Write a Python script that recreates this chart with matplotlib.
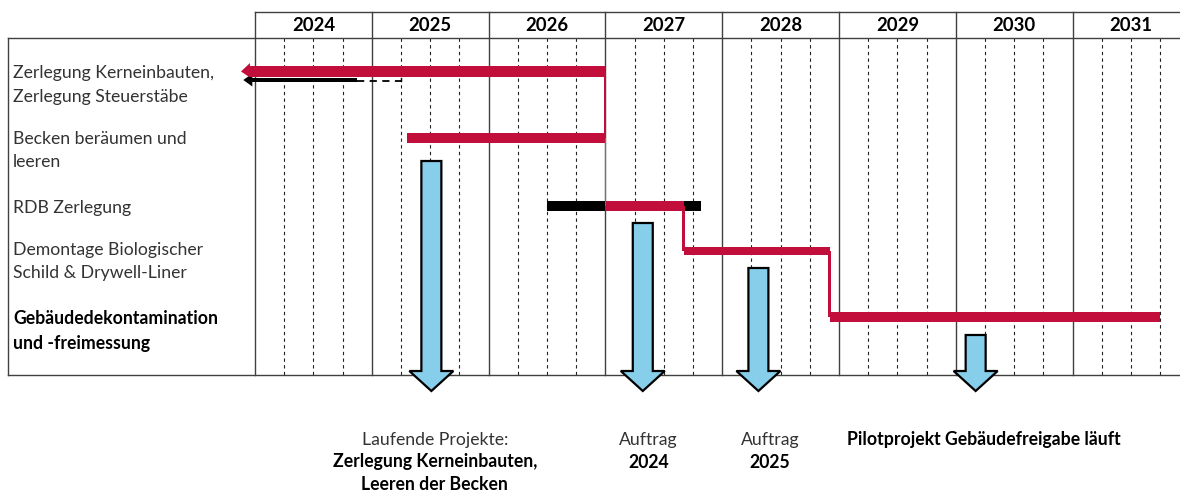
import matplotlib
matplotlib.use("Agg")
import matplotlib.pyplot as plt
from matplotlib.patches import Polygon, Rectangle

# ---------------- data ----------------
years = [2024, 2025, 2026, 2027, 2028, 2029, 2030, 2031]
year_labels = ["2024", "2025", "2026", "2027", "2028", "2029", "2030", "2031"]

tasks = [
    ["Zerlegung Kerneinbauten,", "Zerlegung Steuerstäbe"],
    ["Becken beräumen und", "leeren"],
    ["RDB Zerlegung"],
    ["Demontage Biologischer", "Schild & Drywell-Liner"],
    ["Gebäudedekontamination", "und -freimessung"],
]
task_bold = [False, False, False, False, True]

# current plan (red) start / end in years
red_start = [2023.88, 2025.30, 2027.00, 2027.67, 2028.92]
red_end = [2027.00, 2027.00, 2027.67, 2028.92, 2031.75]

# original plan (black) start / end, dashed extension
black_start = [2023.90, None, 2026.50, None, None]
black_end = [2024.875, None, 2027.82, None, None]
dashed_end = [2025.25, None, None, None, None]

# milestones (blue arrows)
milestone_x = [2025.51, 2027.32, 2028.31, 2030.17]
milestone_lines = [
    [("Laufende Projekte:", False), ("Zerlegung Kerneinbauten,", True), ("Leeren der Becken", True)],
    [("Auftrag", False), ("2024", True)],
    [("Auftrag", False), ("2025", True)],
    [("Pilotprojekt Gebäudefreigabe läuft", True)],
]
milestone_label_x = [2025.54, 2027.37, 2028.41, 2030.24]

# ---------------- layout ----------------
W, H = 1180, 492
PXY = 116.8          # pixels per year
X_START_PX = 255     # pixel position of 2024.0
x0 = 2024 - X_START_PX / PXY
x1 = x0 + W / PXY

def yr(px):  # pixel width -> years
    return px / PXY

row_y = [71.5, 138, 205.5, 251, 317]
row_h = [10.5, 10, 10, 8, 10]
label_y = [[73, 97], [139, 162], [208], [250, 273], [319, 343]]
milestone_top = [161, 223, 268, 335]
HEAD_BASE, HEAD_TIP = 371, 391
SHAFT_HW, HEAD_HW = 10, 22

RED = "#C20E3A"
BLUE = "#87CEEB"
GRID = "#404040"
TXT = "#333333"
FONT = ["Lato", "DejaVu Sans"]
FS = 12.7

plt.rcParams["font.family"] = FONT

fig = plt.figure(figsize=(W / 100, H / 100), dpi=100)
ax = fig.add_axes([0, 0, 1, 1])
ax.set_xlim(x0, x1)
ax.set_ylim(H, 0)
ax.axis("off")

TOP, HDR, BOT = 12, 38, 375
LEFT = x0 + yr(8)

# frame
ax.plot([years[0], x1], [TOP, TOP], color=GRID, lw=1.0, zorder=2)
ax.plot([LEFT, x1], [HDR, HDR], color=GRID, lw=1.0, zorder=2)
ax.plot([LEFT, x1], [BOT, BOT], color=GRID, lw=1.0, zorder=2)
ax.plot([LEFT, LEFT], [HDR, BOT], color=GRID, lw=1.0, zorder=2)
for y in years:
    ax.plot([y, y], [TOP, BOT], color=GRID, lw=1.0, zorder=2)
    for q in (0.25, 0.5, 0.75):
        ax.plot([y + q, y + q], [HDR, BOT], color="#222222", lw=0.8,
                dashes=(3, 3), zorder=1)
for y, lab in zip(years, year_labels):
    ax.text(y + 0.5, 25.5, lab, ha="center", va="center", fontsize=13.3,
            fontweight="bold", color="black")

# task labels
for lines, ys, b in zip(tasks, label_y, task_bold):
    for line, yy in zip(lines, ys):
        ax.text(x0 + yr(13), yy, line, ha="left", va="center", fontsize=FS,
                fontweight="bold" if b else "normal",
                color="black" if b else TXT)

# black (original plan) bars
for i, (bs, be) in enumerate(zip(black_start, black_end)):
    if bs is None:
        continue
    if i == 0:
        yc = 80
        h = 4.5
        head = yr(9)
        ax.add_patch(Rectangle((bs + head, yc - h / 2), be - bs - head, h,
                               color="black", lw=0, zorder=4))
        ax.add_patch(Polygon([[bs, yc], [bs + head, yc - 6.5], [bs + head, yc + 6.5]],
                             closed=True, color="black", lw=0, zorder=4))
    else:
        yc = row_y[i]
        h = row_h[i]
        ax.add_patch(Rectangle((bs, yc - h / 2), be - bs, h,
                               color="black", lw=0, zorder=4))
for i, de in enumerate(dashed_end):
    if de is None:
        continue
    ax.plot([black_end[i], de], [80.5, 80.5], color="black", lw=1.3,
            dashes=(4, 3), zorder=4)
    ax.plot([de, de], [77.5, 81], color="black", lw=1.0, zorder=4)

# red (current plan) bars
for i, (rs, re) in enumerate(zip(red_start, red_end)):
    yc, h = row_y[i], row_h[i]
    if i == 0:
        head = yr(9)
        ax.add_patch(Rectangle((rs + head, yc - h / 2), re - rs - head, h,
                               color=RED, lw=0, zorder=5))
        ax.add_patch(Polygon([[rs, yc], [rs + head, yc - 8.5], [rs + head, yc + 6]],
                             closed=True, color=RED, lw=0, zorder=5))
    else:
        ax.add_patch(Rectangle((rs, yc - h / 2), re - rs, h,
                               color=RED, lw=0, zorder=5))

# red connectors between rows
ax.add_patch(Rectangle((red_end[0] - yr(1), row_y[0]), yr(2),
                       row_y[1] - row_y[0], color=RED, lw=0, zorder=5))
ax.add_patch(Rectangle((red_end[1] - yr(0.8), row_y[1]), yr(1.6),
                       row_y[2] - row_y[1], color="#DD4A2A", lw=0, zorder=5))
ax.add_patch(Rectangle((red_end[2] - yr(1.5), row_y[2]), yr(3),
                       row_y[3] - row_y[2], color=RED, lw=0, zorder=5))
ax.add_patch(Rectangle((red_end[3] - yr(1.5), row_y[3]), yr(3),
                       row_y[4] - row_y[3], color=RED, lw=0, zorder=5))

# milestone arrows
for mx, top in zip(milestone_x, milestone_top):
    sw, hw = yr(SHAFT_HW), yr(HEAD_HW)
    pts = [[mx - sw, top], [mx + sw, top], [mx + sw, HEAD_BASE],
           [mx + hw, HEAD_BASE], [mx, HEAD_TIP], [mx - hw, HEAD_BASE],
           [mx - sw, HEAD_BASE]]
    ax.add_patch(Polygon(pts, closed=True, facecolor=BLUE, edgecolor="black",
                         lw=1.6, joinstyle="miter", zorder=6))

# milestone labels
line_y = [440, 462, 485]
for lx, lines in zip(milestone_label_x, milestone_lines):
    for (txt, b), yy in zip(lines, line_y):
        ax.text(lx, yy, txt, ha="center", va="center", fontsize=FS,
                fontweight="bold" if b else "normal",
                color="black" if b else TXT)

fig.savefig("out.png", dpi=100, facecolor="white")
